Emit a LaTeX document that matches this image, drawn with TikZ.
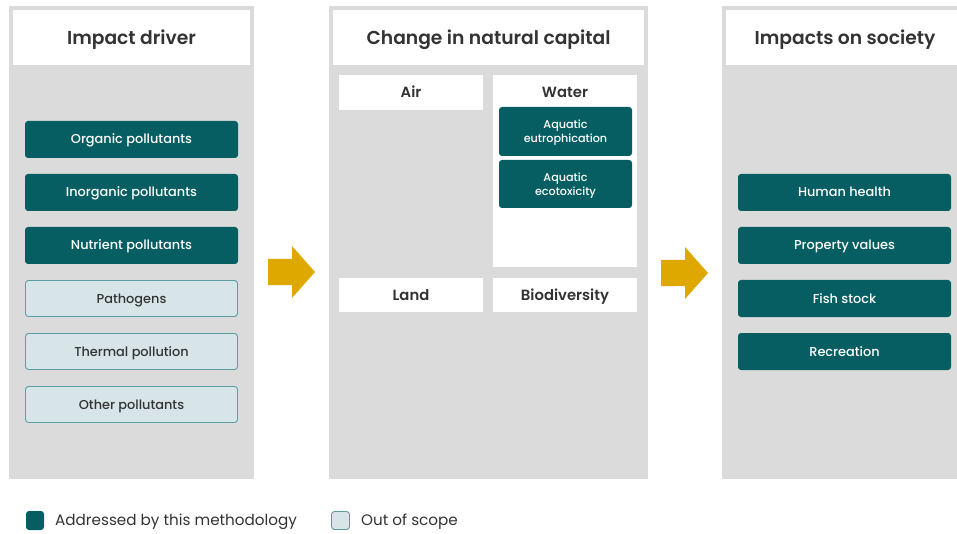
\documentclass[tikz,border=0pt]{standalone}
\usepackage{fontspec}
\setmainfont{Poppins}
\newfontfamily\medfont{Poppins Medium}
\newfontfamily\semifont{Poppins SemiBold}
\definecolor{teal1}{HTML}{065E62}
\definecolor{lightfill}{HTML}{D7E5E8}
\definecolor{lightline}{HTML}{5A9EA3}
\definecolor{panelgray}{HTML}{DBDBDB}
\definecolor{arrowgold}{HTML}{DFA800}
\definecolor{txtdark}{HTML}{333333}
\tikzset{
  panel/.style={fill=panelgray},
  header/.style={text height=13.3pt, text depth=0pt, inner sep=0pt, font=\semifont\fontsize{18.7}{22}\selectfont, text=txtdark},
  dkbox/.style={text height=9pt, text depth=0pt, fill=teal1, rounded corners=3pt, text=white, minimum width=213pt, minimum height=37pt, inner sep=0pt, font=\medfont\fontsize{12.9}{15}\selectfont},
  ltbox/.style={text height=9pt, text depth=0pt, fill=lightfill, draw=lightline, line width=0.9pt, rounded corners=3pt, text=txtdark, minimum width=212pt, minimum height=36pt, inner sep=0pt, font=\medfont\fontsize{12.9}{15}\selectfont},
  wbox/.style={text height=10.4pt, text depth=0pt, fill=white, text=txtdark, minimum width=144pt, minimum height=35pt, inner sep=0pt, font=\semifont\fontsize{14.8}{17}\selectfont},
  aqbox/.style={text depth=0pt, fill=teal1, rounded corners=3pt, text=white, minimum width=133pt, inner sep=0pt, align=center, font=\medfont\fontsize{11.2}{14}\selectfont},
  bigarrow/.style={fill=arrowgold},
  legtext/.style={text height=10.6pt, text depth=0pt, anchor=west, text=txtdark, inner sep=0pt, font=\fontsize{15.2}{17}\selectfont}
}
\begin{document}
\begin{tikzpicture}[x=1pt,y=-1pt]
\useasboundingbox (0,0) rectangle (957,534);
\fill[white] (0,0) rectangle (957,534);
% panels
\fill[panel] (9,6) rectangle (254,479);
\fill[white] (13,10) rectangle (250,65);
\node[header] (h1) at (131.5,37.5) {Impact driver};
\fill[panel] (329,6) rectangle (648,479);
\fill[white] (333,10) rectangle (644,65);
\node[header] (h2) at (488.5,37.5) {Change in natural capital};
\fill[panel] (722,6) rectangle (957,479);
\fill[white] (726,10) rectangle (957,65);
\node[header] (h3) at (845,37.5) {Impacts on society};
% column 1
\node[dkbox] (org) at (131.5,139.5) {Organic pollutants};
\node[dkbox] (inorg) at (131.5,192.5) {Inorganic pollutants};
\node[dkbox] (nutr) at (131.5,245.5) {Nutrient pollutants};
\node[ltbox] (path) at (131.5,298.5) {Pathogens};
\node[ltbox] (therm) at (131.5,351.5) {Thermal pollution};
\node[ltbox] (other) at (131.5,404.5) {Other pollutants};
% column 2
\node[wbox] (air) at (411,92.5) {Air};
\fill[white] (493,75) rectangle (637,267);
\node[wbox] (water) at (565,92.5) {Water};
\node[wbox, minimum height=34pt] (land) at (411,295) {Land};
\node[wbox, minimum height=34pt] (bio) at (565,295) {Biodiversity};
\node[aqbox, minimum height=49pt] (eut) at (565.5,131.5) {Aquatic\\eutrophication};
\node[aqbox, minimum height=48pt] (eco) at (565.5,184) {Aquatic\\ecotoxicity};
% column 3
\node[dkbox] (hh) at (844.5,192.5) {Human health};
\node[dkbox] (prop) at (844.5,245.5) {Property values};
\node[dkbox] (fish) at (844.5,298.5) {Fish stock};
\node[dkbox] (rec) at (844.5,351.5) {Recreation};
% arrows
\fill[bigarrow] (268,259) -- (292,259) -- (292,246) -- (315,272) -- (292,298) -- (292,285) -- (268,285) -- cycle;
\fill[bigarrow] (661,260) -- (685,260) -- (685,247) -- (708,273) -- (685,299) -- (685,286) -- (661,286) -- cycle;
% legend
\node[fill=teal1, rounded corners=3pt, minimum width=18pt, minimum height=19pt, inner sep=0pt] (lg1) at (35,520.5) {};
\node[legtext] (lt1) at (55,520.5) {Addressed by this methodology};
\node[fill=lightfill, draw=lightline, line width=0.9pt, rounded corners=3pt, minimum width=18pt, minimum height=18pt, inner sep=0pt] (lg2) at (340.5,520.5) {};
\node[legtext] (lt2) at (361,520.5) {Out of scope};
\end{tikzpicture}
\end{document}
